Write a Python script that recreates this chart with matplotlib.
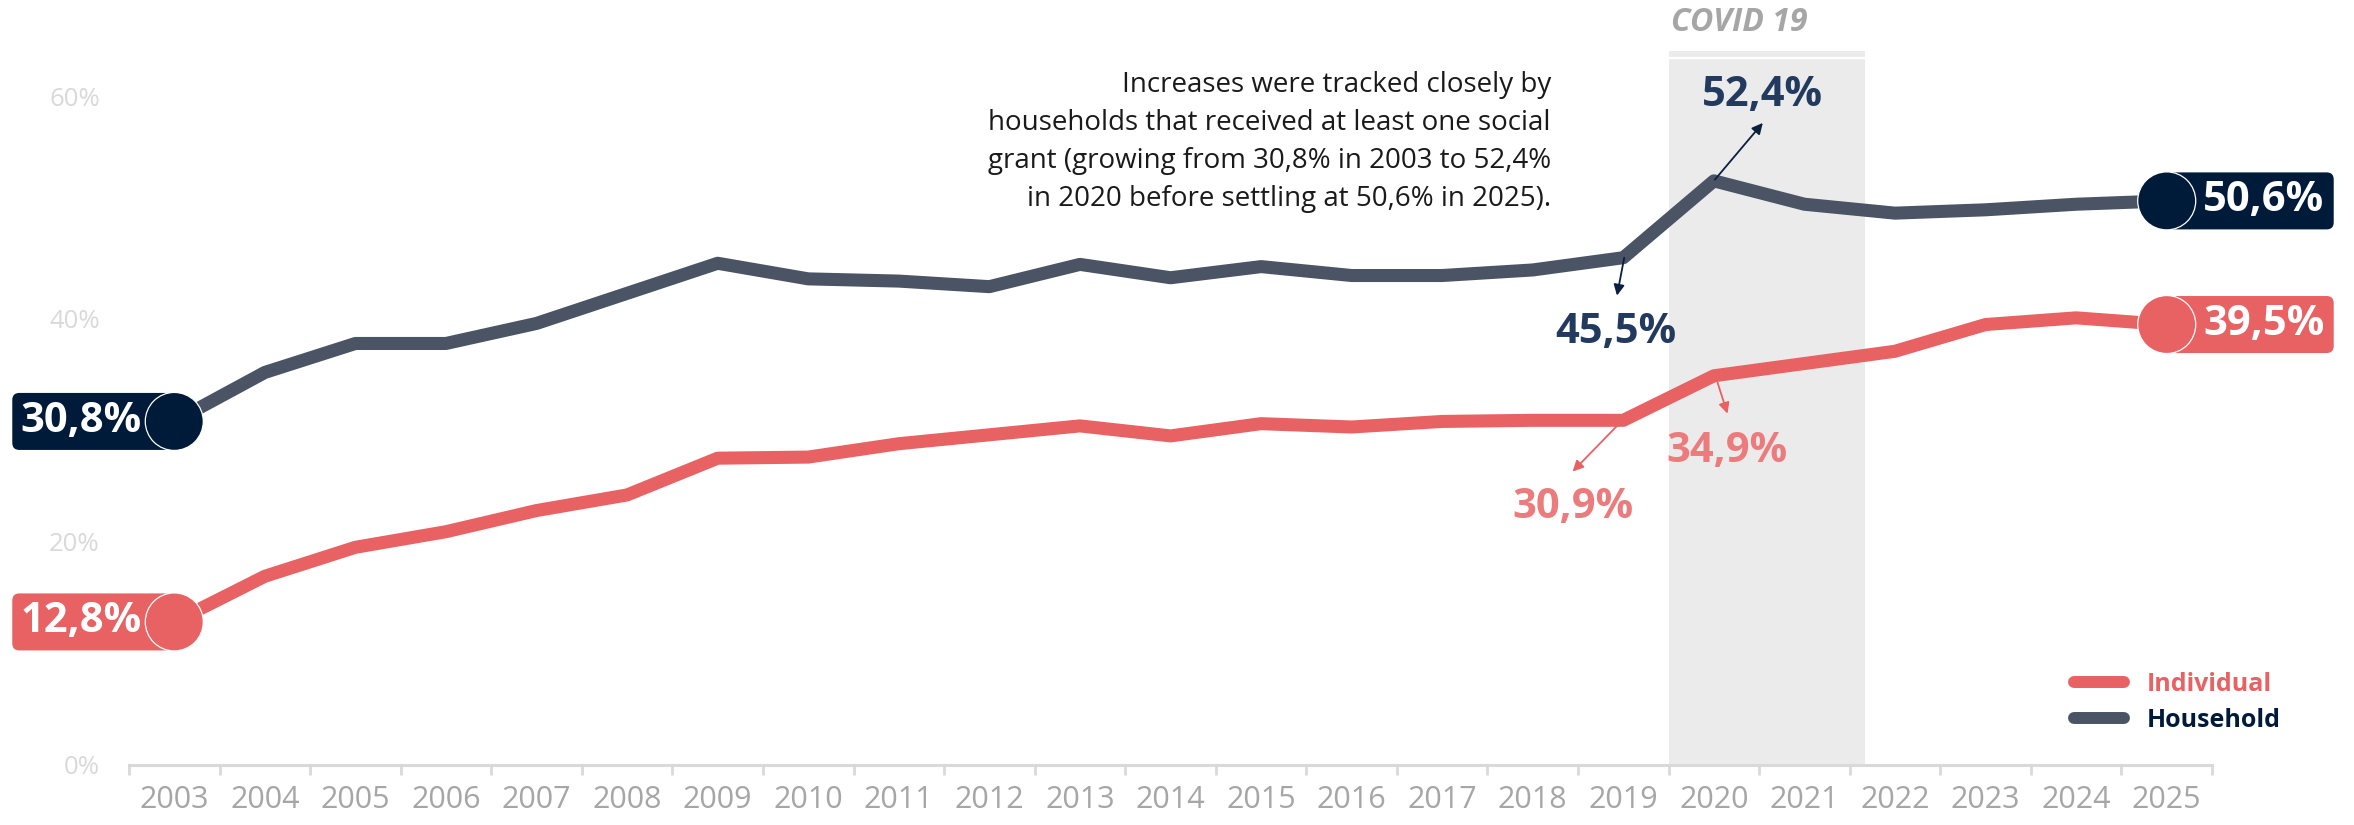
import matplotlib.pyplot as plt
from matplotlib.patches import FancyBboxPatch, Circle
from matplotlib.lines import Line2D
from matplotlib.transforms import IdentityTransform

plt.rcParams['font.family'] = ['Open Sans', 'DejaVu Sans']

# data (percent)
years = list(range(2003, 2026))
individual = [12.8, 16.9, 19.5, 20.9, 22.8, 24.2, 27.5, 27.6, 28.8, 29.6, 30.4, 29.5,
              30.6, 30.3, 30.8, 30.9, 30.9, 34.9, 36.0, 37.1, 39.5, 40.1, 39.5]
household = [30.8, 35.2, 37.8, 37.8, 39.6, 42.3, 45.0, 43.6, 43.4, 42.9, 44.9, 43.7,
             44.7, 43.9, 43.9, 44.4, 45.5, 52.4, 50.3, 49.5, 49.8, 50.3, 50.6]
y_ticks = [0, 20, 40, 60]
y_tick_labels = ['0%', '20%', '40%', '60%']
covid_span = (2019.5, 2021.67)
note = ("Increases were tracked closely by\n"
        "households that received at least one social\n"
        "grant (growing from 30,8% in 2003 to 52,4%\n"
        "in 2020 before settling at 50,6% in 2025).")

RED = '#E86163'
RED_LIGHT = '#EC7B7E'
SLATE = '#4A5465'
NAVY = '#001B3A'
NAVY_TXT = '#223A5E'
GRID = '#D9D9D9'

W, H = 2354, 825
fig = plt.figure(figsize=(W / 100, H / 100), dpi=100)
ax = fig.add_axes([129 / W, (H - 764.5) / H, (2212 - 129) / W, 724 / H])
ax.set_xlim(2002.5, 2025.5)
ax.set_ylim(0, 65)

# covid band
ax.axvspan(*covid_span, ymax=64.1 / 65, color='#EBEBEB', lw=0, zorder=0)
ax.plot(covid_span, [63.4, 63.4], color='white', lw=1.6, zorder=0.5)
ax.text(sum(covid_span) / 2 - 0.3, 66.6, 'COVID 19', color='#A6A6A6', fontsize=23,
        fontweight='bold', style='italic', ha='center', va='center', clip_on=False)

# lines
ax.plot(years, household, color=SLATE, lw=9.4, solid_joinstyle='round', zorder=2)
ax.plot(years, individual, color=RED, lw=9.4, solid_joinstyle='round', zorder=2)

# axes styling
for s in ['top', 'right', 'left']:
    ax.spines[s].set_visible(False)
ax.spines['bottom'].set_color(GRID)
ax.spines['bottom'].set_linewidth(2.2)
ax.set_xticks(years)
ax.set_xticklabels([str(y) for y in years])
ax.set_xticks([y - 0.5 for y in years] + [2025.5], minor=True)
ax.tick_params(axis='x', which='major', length=0, pad=15, labelsize=22, labelcolor='#A6A6A6')
ax.tick_params(axis='x', which='minor', length=7.5, width=2, color=GRID)
ax.set_yticks(y_ticks)
ax.set_yticklabels(y_tick_labels)
ax.tick_params(axis='y', length=0, pad=21, labelsize=18.5, labelcolor=GRID)

# callouts
def callout(text, txt_xy, start, end, color, arrow_color):
    ax.annotate('', xy=end, xytext=start,
                arrowprops=dict(arrowstyle='-|>', color=arrow_color, lw=1.3,
                                mutation_scale=16, shrinkA=0, shrinkB=0), zorder=4)
    ax.text(txt_xy[0], txt_xy[1], text, color=color, fontsize=30, fontweight='bold',
            ha='center', va='center', zorder=4)

callout('52,4%', (2020.54, 60.1), (2020.01, 52.5), (2020.54, 57.6), NAVY_TXT, '#0B1F3F')
callout('45,5%', (2018.92, 38.8), (2019.01, 45.5), (2018.93, 42.1), NAVY_TXT, '#0B1F3F')
callout('34,9%', (2020.14, 28.1), (2020.04, 34.3), (2020.15, 31.5), RED_LIGHT, RED)
callout('30,9%', (2018.44, 23.1), (2018.93, 30.4), (2018.44, 26.3), RED_LIGHT, RED)

ax.text(2018.2, 55.9, note, ha='right', va='center', fontsize=20, linespacing=1.47,
        color='#1A1A1A', zorder=4)

# end labels (pill box + circle), drawn in pixel space
ident = IdentityTransform()

def end_label(year, value, text, color, side):
    cx, cy = ax.transData.transform((year, value))
    h = 57
    if side == 'left':
        x0, w, tx = cx - 162, 162, cx - 93
    else:
        x0, w, tx = cx, 167, cx + 97
    box = FancyBboxPatch((x0, cy - h / 2), w, h, boxstyle='round,pad=0,rounding_size=7',
                         fc=color, ec='none', transform=ident, zorder=5)
    fig.add_artist(box)
    circ = Circle((cx, cy), 29, fc=color, ec='white', lw=0.9, transform=ident, zorder=6)
    fig.add_artist(circ)
    fig.text(tx, cy, text, transform=ident, color='white', fontsize=30, fontweight='bold',
             ha='center', va='center', zorder=7)

end_label(years[0], household[0], '30,8%', NAVY, 'left')
end_label(years[0], individual[0], '12,8%', RED, 'left')
end_label(years[-1], household[-1], '50,6%', NAVY, 'right')
end_label(years[-1], individual[-1], '39,5%', RED, 'right')

# legend
handles = [Line2D([], [], color=RED, lw=8.6, solid_capstyle='round'),
           Line2D([], [], color=SLATE, lw=8.6, solid_capstyle='round')]
ax.legend(handles, ['Individual', 'Household'], loc='center left',
          bbox_to_anchor=(2074 / W, (H - 702.5) / H), bbox_transform=fig.transFigure,
          frameon=False, borderpad=0, borderaxespad=0, handlelength=2.0,
          handletextpad=0.9, labelspacing=0.45, labelcolor=[RED, NAVY],
          prop={'size': 18, 'weight': 'bold'})

fig.savefig('out.png', dpi=100)
